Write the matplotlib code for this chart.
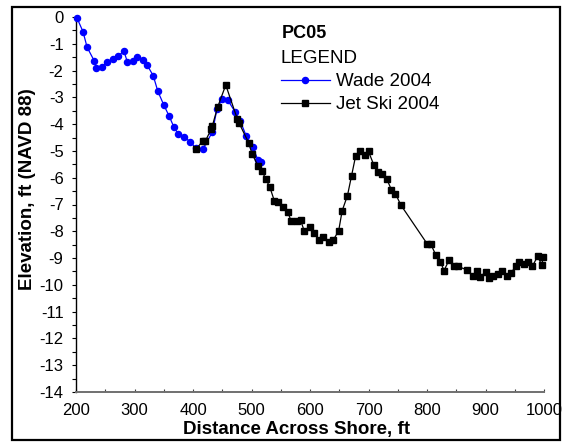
import matplotlib
matplotlib.use("Agg")
import matplotlib.pyplot as plt
from matplotlib.patches import Rectangle
from matplotlib.ticker import MultipleLocator, FuncFormatter

plt.rcParams['font.family'] = ['Liberation Sans', 'DejaVu Sans']
plt.rcParams['axes.unicode_minus'] = False

# Wade 2004 survey
wade_x = [202, 212, 219, 231, 235, 245, 253, 263, 272, 282, 288, 298, 305, 314,
          322, 332, 340, 350, 359, 367, 375, 385, 395, 405, 417, 433, 441, 450,
          459, 472, 481, 491, 502, 511, 516]
wade_y = [-0.05, -0.55, -1.13, -1.63, -1.90, -1.85, -1.69, -1.56, -1.45, -1.28,
          -1.69, -1.66, -1.49, -1.60, -1.81, -2.19, -2.78, -3.28, -3.69, -4.09,
          -4.38, -4.49, -4.65, -4.90, -4.93, -4.30, -3.44, -3.06, -3.09, -3.54,
          -3.90, -4.44, -4.86, -5.33, -5.43]

# Jet Ski 2004 survey
jet_x = [405, 417, 421, 431, 433, 442, 456, 476, 479, 495, 501, 511, 518, 524,
         531, 539, 546, 554, 562, 568, 578, 584, 590, 600, 607, 616, 623, 632,
         640, 649, 655, 664, 671, 678, 685, 694, 700, 709, 716, 723, 731, 739,
         746, 755, 800, 806, 815, 823, 829, 838, 846, 853, 868, 878, 885, 891,
         900, 906, 912, 921, 929, 936, 943, 952, 957, 966, 973, 980, 989, 996,
         999]
jet_y = [-4.94, -4.62, -4.64, -4.19, -4.07, -3.37, -2.54, -3.82, -3.97, -4.69,
         -5.11, -5.55, -5.74, -6.04, -6.33, -6.86, -6.89, -7.11, -7.28, -7.63,
         -7.63, -7.59, -7.98, -7.85, -8.07, -8.32, -8.22, -8.41, -8.32, -7.98,
         -7.23, -6.67, -5.93, -5.19, -5.02, -5.15, -5.02, -5.52, -5.77, -5.87,
         -6.04, -6.44, -6.59, -7.01, -8.46, -8.46, -8.88, -9.13, -9.47, -9.06,
         -9.28, -9.31, -9.44, -9.66, -9.47, -9.69, -9.53, -9.75, -9.66, -9.58,
         -9.50, -9.66, -9.56, -9.31, -9.13, -9.23, -9.15, -9.31, -8.94, -9.25,
         -8.96]

W, H = 573, 445
fig = plt.figure(figsize=(W / 100, H / 100), dpi=100)
ax = fig.add_axes([76 / W, 1 - 392 / H, (544 - 76) / W, (392 - 17) / H])

ax.plot(wade_x, wade_y, color='#0000FF', lw=0.9, marker='o', ms=4.4,
        mec='#0000FF', label='Wade 2004', clip_on=False, zorder=3)
ax.plot(jet_x, jet_y, color='black', lw=0.9, marker='s', ms=3.8,
        label='Jet Ski 2004', clip_on=False, zorder=4)

ax.set_xlim(200, 1000)
ax.set_ylim(-14, 0)
ax.xaxis.set_major_locator(MultipleLocator(100))
ax.xaxis.set_minor_locator(MultipleLocator(50))
ax.yaxis.set_major_locator(MultipleLocator(1))
ax.yaxis.set_minor_locator(MultipleLocator(0.5))
ax.yaxis.set_major_formatter(FuncFormatter(lambda v, p: '%d' % round(v) if round(v) == 0 else '-%d' % abs(round(v))))

ax.tick_params(axis='y', which='both', direction='out', length=3, width=0.8,
               labelsize=12, pad=6)
ax.tick_params(axis='x', which='both', direction='in', length=2, width=0.8,
               labelsize=12, pad=8, color='#404040')

for s in ['top', 'right']:
    ax.spines[s].set_visible(False)
ax.spines['left'].set_linewidth(1.0)
ax.spines['bottom'].set_linewidth(1.4)
ax.spines['bottom'].set_color('#707070')

ax.set_xlabel('Distance Across Shore, ft', fontsize=13.5, fontweight='bold')
ax.set_ylabel('Elevation, ft (NAVD 88)', fontsize=13.5, fontweight='bold')
ax.xaxis.set_label_coords(0.472, -0.078)
ax.yaxis.set_label_coords(-0.085, 0.54)

# legend block
fig.text(282 / W, 1 - 34 / H, 'PC05', fontsize=13, fontweight='bold',
         ha='left', va='center')
leg = ax.legend(loc='upper left', bbox_to_anchor=(281 / W, 1 - 50 / H),
                bbox_transform=fig.transFigure, frameon=False, title='LEGEND',
                alignment='left', fontsize=13.5, title_fontsize=13.5,
                handlelength=2.6, handletextpad=0.35, labelspacing=0.32,
                borderpad=0, borderaxespad=0)

# outer frame
fig.patches.append(Rectangle((12 / W, 1 - 440 / H), (560 - 12) / W, (440 - 7) / H,
                             transform=fig.transFigure, fill=False,
                             edgecolor='black', lw=1.6))

fig.savefig('out.png', dpi=100)
